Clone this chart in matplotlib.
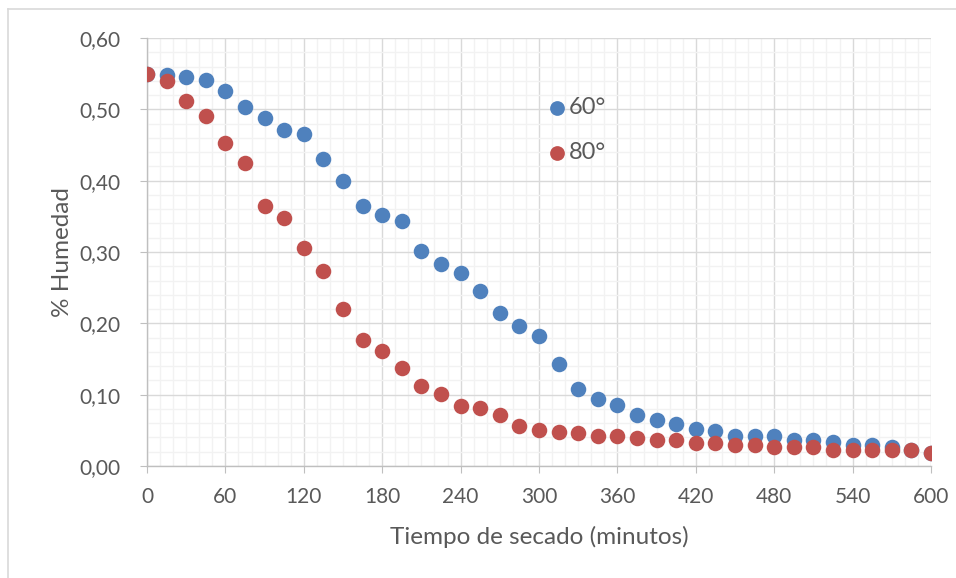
import matplotlib
matplotlib.use("Agg")
import matplotlib.pyplot as plt
from matplotlib.ticker import MultipleLocator, FuncFormatter
from matplotlib.lines import Line2D

# Drying time (minutes) and moisture fraction for two drying temperatures
minutes = list(range(0, 601, 15))

humedad_60 = [0.550, 0.548, 0.546, 0.541, 0.525, 0.503, 0.488, 0.471, 0.465, 0.431,
              0.400, 0.365, 0.352, 0.344, 0.302, 0.283, 0.271, 0.245, 0.215, 0.196,
              0.182, 0.143, 0.108, 0.094, 0.085, 0.072, 0.065, 0.059, 0.052, 0.049,
              0.042, 0.042, 0.042, 0.036, 0.036, 0.033, 0.030, 0.030, 0.027, 0.022,
              0.018]

humedad_80 = [0.550, 0.540, 0.511, 0.491, 0.453, 0.425, 0.364, 0.348, 0.305, 0.274,
              0.220, 0.176, 0.161, 0.138, 0.112, 0.101, 0.084, 0.081, 0.072, 0.056,
              0.050, 0.047, 0.046, 0.042, 0.042, 0.039, 0.036, 0.036, 0.032, 0.032,
              0.029, 0.029, 0.026, 0.026, 0.026, 0.022, 0.022, 0.022, 0.022, 0.022,
              0.018]

series_labels = ["60°", "80°"]
x_label = "Tiempo de secado (minutos)"
y_label = "% Humedad"

plt.rcParams["font.family"] = ["Lato", "DejaVu Sans"]
text_color = "#595959"

W, H = 956, 578
fig = plt.figure(figsize=(W / 100, H / 100), dpi=100)

# chart-area frame: visible along the top and left edges
frame_kw = dict(transform=fig.transFigure, color="#d9d9d9", linewidth=1.2)
fig.add_artist(Line2D([7.5 / W, 1.0], [1 - 8.5 / H, 1 - 8.5 / H], **frame_kw))
fig.add_artist(Line2D([7.5 / W, 7.5 / W], [0.0, 1 - 8.5 / H], **frame_kw))

ax = fig.add_axes([147 / W, 1 - 466 / H, (931 - 147) / W, (466 - 38) / H])

ax.scatter(minutes, humedad_60, s=125, color="#4f81bd", label=series_labels[0],
           zorder=3, linewidths=0)
ax.scatter(minutes, humedad_80, s=125, color="#c0504d", label=series_labels[1],
           zorder=4, linewidths=0)

ax.set_xlim(0, 600)
ax.set_ylim(0, 0.60)
ax.xaxis.set_major_locator(MultipleLocator(60))
ax.xaxis.set_minor_locator(MultipleLocator(10))
ax.yaxis.set_major_locator(MultipleLocator(0.10))
ax.yaxis.set_minor_locator(MultipleLocator(0.02))
ax.yaxis.set_major_formatter(FuncFormatter(lambda v, p: f"{v:.2f}".replace(".", ",")))

ax.grid(which="minor", color="#f2f2f2", linewidth=1.0, zorder=0)
ax.grid(which="major", color="#d9d9d9", linewidth=1.0, zorder=1)
ax.set_axisbelow(True)

for side in ("top", "right"):
    ax.spines[side].set_visible(False)
for side in ("left", "bottom"):
    ax.spines[side].set_color("#bfbfbf")
    ax.spines[side].set_linewidth(1.0)

ax.tick_params(which="major", direction="out", length=5, color="#bfbfbf",
               labelsize=15, labelcolor=text_color)
ax.tick_params(axis="x", which="major", pad=10)
ax.tick_params(axis="y", which="major", pad=14)
ax.tick_params(which="minor", length=0)

ax.set_xlabel(x_label, fontsize=17.5, color=text_color, labelpad=14)
ax.set_ylabel(y_label, fontsize=17.5, color=text_color, labelpad=5)

leg = ax.legend(loc="center left", bbox_to_anchor=(0.512, 0.784), frameon=False,
                fontsize=17, handletextpad=0.15, handlelength=0.7, labelspacing=1.02,
                markerscale=0.95, borderpad=0, borderaxespad=0)
for t in leg.get_texts():
    t.set_color(text_color)

fig.savefig("out.png", dpi=100)
